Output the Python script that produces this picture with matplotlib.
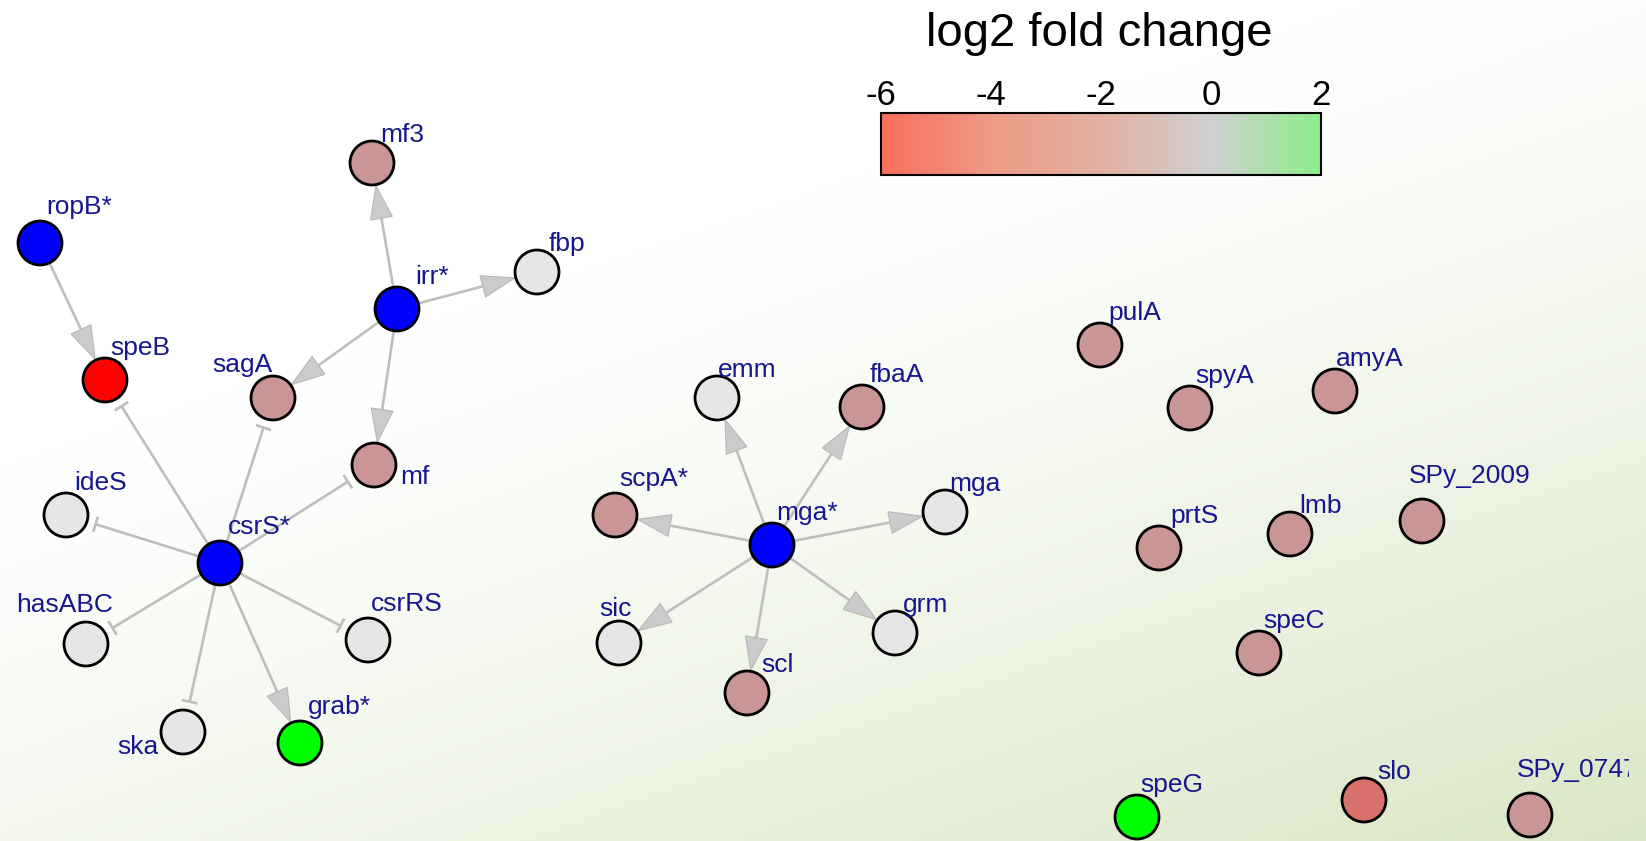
import numpy as np
import matplotlib.pyplot as plt
from matplotlib.patches import Circle, Polygon
from matplotlib.colors import LinearSegmentedColormap, Normalize, to_rgb
from matplotlib.cm import ScalarMappable

plt.rcParams['font.family'] = ['Liberation Sans', 'DejaVu Sans']
plt.rcParams['axes.unicode_minus'] = False

W, H = 1646, 841

# network layout (pixel coordinates of the original drawing)
genes = ['ropB*', 'speB', 'sagA', 'mf3', 'irr*', 'fbp', 'mf', 'ideS', 'csrS*',
         'hasABC', 'csrRS', 'ska', 'grab*', 'emm', 'fbaA', 'scpA*', 'mga*', 'mga',
         'sic', 'grm', 'scl', 'pulA', 'spyA', 'amyA', 'SPy_2009', 'prtS', 'lmb',
         'speC', 'speG', 'slo', 'SPy_0747']
node_x = [40, 105, 273, 372, 397, 537, 374, 66, 220,
          86, 368, 183, 300, 717, 862, 615, 772, 945,
          619, 895, 747, 1100, 1190, 1335, 1422, 1159, 1290,
          1259, 1137, 1364, 1530]
node_y = [243, 380, 398, 163, 309, 272, 465, 515, 563,
          644, 640, 732, 743, 398, 407, 515, 545, 512,
          643, 633, 693, 345, 408, 391, 521, 548, 534,
          653, 817, 800, 815]

BLUE, RED, GREEN, GREY, DOWN, SLO = '#0000FF', '#FF0000', '#00FF00', '#E6E6E6', '#C99695', '#D8706E'
node_color = [BLUE, RED, DOWN, DOWN, BLUE, GREY, DOWN, GREY, BLUE,
              GREY, GREY, GREY, GREEN, GREY, DOWN, DOWN, BLUE, GREY,
              GREY, GREY, DOWN, DOWN, DOWN, DOWN, DOWN, DOWN, DOWN,
              DOWN, GREEN, SLO, DOWN]

# regulatory edges: 'act' = arrow, 'rep' = flat bar
edge_src = ['ropB*', 'irr*', 'irr*', 'irr*', 'irr*',
            'csrS*', 'csrS*', 'csrS*', 'csrS*', 'csrS*', 'csrS*', 'csrS*', 'csrS*',
            'mga*', 'mga*', 'mga*', 'mga*', 'mga*', 'mga*', 'mga*']
edge_dst = ['speB', 'mf3', 'fbp', 'sagA', 'mf',
            'speB', 'sagA', 'mf', 'ideS', 'hasABC', 'ska', 'csrRS', 'grab*',
            'emm', 'fbaA', 'scpA*', 'mga', 'sic', 'scl', 'grm']
edge_kind = ['act', 'act', 'act', 'act', 'act',
             'rep', 'rep', 'rep', 'rep', 'rep', 'rep', 'rep', 'act',
             'act', 'act', 'act', 'act', 'act', 'act', 'act']

# labels not in the default upper-right position
label_shift = {'sagA': (-31, -36), 'mf': (41, 9), 'hasABC': (-21, -41),
               'ska': (-45, 13), 'sic': (-4, -36)}

cbar_ticks = [-6, -4, -2, 0, 2]
cbar_vals = [-6, -4, -2, 0, 2]
cbar_cols = ['#F86E5C', '#EE9A86', '#E2B0A2', '#D0D0D0', '#8CEE8C']

R = 22
pos = {g: (x, y) for g, x, y in zip(genes, node_x, node_y)}

fig = plt.figure(figsize=(W / 100, H / 100), dpi=100)

# background gradient: white upper left -> pale green lower right
bg = fig.add_axes([0, 0, 1, 1])
u, v = np.meshgrid(np.linspace(0, 1, 400), np.linspace(0, 1, 220))
w = np.clip((0.5 * u + 0.75 * v - 0.42) / 0.83, 0, 1) ** 1.3
c0, c1 = np.array([1.0, 1.0, 1.0]), np.array(to_rgb('#DAE7C6'))
img = c0[None, None, :] * (1 - w[..., None]) + c1[None, None, :] * w[..., None]
bg.imshow(img, extent=[0, W, H, 0], aspect='auto', interpolation='bilinear')
bg.axis('off')

ax = fig.add_axes([0, 0, 1629 / W, 1])
ax.set_xlim(0, 1629)
ax.set_ylim(H, 0)
ax.axis('off')

ecol = '#BEBEBE'
for s, d, k in zip(edge_src, edge_dst, edge_kind):
    x0, y0 = pos[s]
    x1, y1 = pos[d]
    dx, dy = x1 - x0, y1 - y0
    L = np.hypot(dx, dy)
    ux, uy = dx / L, dy / L
    px, py = -uy, ux
    if k == 'act':
        tip = (x1 - ux * (R + 1), y1 - uy * (R + 1))
        hl, hw = 33, 22
        bx, by = tip[0] - ux * hl, tip[1] - uy * hl
        ax.plot([x0, bx], [y0, by], color=ecol, lw=1.9, zorder=1, solid_capstyle='butt')
        ax.add_patch(Polygon([tip, (bx + px * hw / 2, by + py * hw / 2),
                              (bx - px * hw / 2, by - py * hw / 2)],
                             closed=True, fc='#CBCBCB', ec='#B8B8B8', lw=0.8, zorder=2))
    else:
        ex, ey = x1 - ux * (R + 9), y1 - uy * (R + 9)
        ax.plot([x0, ex], [y0, ey], color=ecol, lw=1.9, zorder=1, solid_capstyle='butt')
        ax.plot([ex + px * 8, ex - px * 8], [ey + py * 8, ey - py * 8],
                color=ecol, lw=1.9, zorder=1, solid_capstyle='butt')

for g, x, y, c in zip(genes, node_x, node_y, node_color):
    ax.add_patch(Circle((x, y), R, fc=c, ec='black', lw=2.0, zorder=3))
    if g in label_shift:
        ox, oy = label_shift[g]
    else:
        dist = 70.8 * np.log10(len(g) + 1)
        ox, oy = dist / np.sqrt(2), -dist / np.sqrt(2)
    ax.text(x + ox, y + oy + 9.5, g, ha='center', va='baseline', fontsize=19,
            color='#16168F', zorder=4, clip_on=True)

# colour key
cmap = LinearSegmentedColormap.from_list(
    'lfc', list(zip(np.interp(cbar_vals, [-6, 2], [0, 1]), cbar_cols)))
cax = fig.add_axes([881 / W, 1 - 175 / H, 440 / W, 62 / H])
cb = fig.colorbar(ScalarMappable(norm=Normalize(-6, 2), cmap=cmap), cax=cax,
                  orientation='horizontal', ticks=cbar_ticks)
cb.outline.set_linewidth(1.5)
cax.xaxis.set_ticks_position('top')
cax.tick_params(length=0, labelsize=25, pad=1)
cb.set_ticklabels([str(t) for t in cbar_ticks])
fig.text(1099 / W, 1 - 46 / H, 'log2 fold change', ha='center', va='baseline', fontsize=34)

fig.savefig('out.png', dpi=100)
